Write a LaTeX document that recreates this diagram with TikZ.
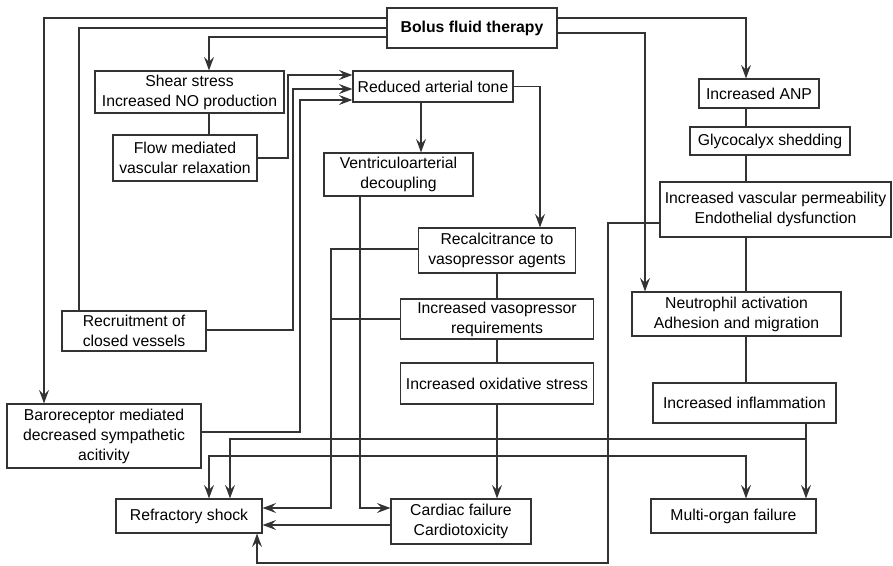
\documentclass[tikz,border=0pt]{standalone}
\usepackage{fontspec}
\setmainfont{Liberation Sans}
\usetikzlibrary{arrows.meta}

\begin{document}
\begin{tikzpicture}[x=0.025cm, y=-0.025cm,
	every node/.style={font=\fontsize{11.2}{14.2}\selectfont},
	box/.style={draw=black!80, line width=0.8pt, align=center, inner sep=0pt},
	link/.style={draw=black!80, line width=0.8pt},
	linkarr/.style={link, -{Stealth[length=9.5pt, width=7pt, inset=3.5pt]}},
	linkboth/.style={link, {Stealth[length=9.5pt, width=7pt, inset=3.5pt]}-{Stealth[length=9.5pt, width=7pt, inset=3.5pt]}}]
	\useasboundingbox (0,0) rectangle (893,565);

	\node[box, minimum width=4.25cm, minimum height=1cm, font=\fontsize{11.2}{14.2}\selectfont\bfseries] (bolus) at (472,28) {Bolus fluid therapy};
	\node[box, minimum width=4.725cm, minimum height=1.05cm] (shear) at (189.5,92) {Shear stress\\Increased NO production};
	\node[box, minimum width=3.6cm, minimum height=1.15cm] (flow) at (185,158) {Flow mediated\\vascular relaxation};
	\node[box, minimum width=4cm, minimum height=0.775cm] (reduced) at (433,86.5) {Reduced arterial tone};
	\node[box, minimum width=3.725cm, minimum height=1.075cm] (ventr) at (398.5,174.5) {Ventriculoarterial\\decoupling};
	\node[box, minimum width=3.925cm, minimum height=1.125cm] (recalc) at (497,250.5) {Recalcitrance to\\vasopressor agents};
	\node[box, minimum width=4.825cm, minimum height=1cm] (vasoreq) at (497,319) {Increased vasopressor\\requirements};
	\node[box, minimum width=4.825cm, minimum height=1.025cm] (oxid) at (497,383.5) {Increased oxidative stress};
	\node[box, minimum width=3.5cm, minimum height=1.125cm] (cardiac) at (461,521.5) {Cardiac failure\\Cardiotoxicity};
	\node[box, minimum width=3.6cm, minimum height=1cm] (recruit) at (134,331) {Recruitment of\\closed vessels};
	\node[box, minimum width=4.85cm, minimum height=1.6cm] (baro) at (104,436) {Baroreceptor mediated\\decreased sympathetic\\acitivity};
	\node[box, minimum width=3.65cm, minimum height=0.85cm] (refr) at (189,516) {Refractory shock};
	\node[box, minimum width=3cm, minimum height=0.725cm] (anp) at (759,93.5) {Increased ANP};
	\node[box, minimum width=4cm, minimum height=0.7cm] (glyco) at (770,141) {Glycocalyx shedding};
	\node[box, minimum width=5.775cm, minimum height=1.375cm] (perm) at (775.5,209.5) {Increased vascular permeability\\Endothelial dysfunction};
	\node[box, minimum width=5.225cm, minimum height=1.1cm] (neutro) at (736.5,314) {Neutrophil activation\\Adhesion and migration};
	\node[box, minimum width=4.575cm, minimum height=1cm] (inflam) at (744.5,403) {Increased inflammation};
	\node[box, minimum width=4.125cm, minimum height=0.85cm] (mof) at (733.5,516) {Multi-organ failure};
	\coordinate (split) at (806,439);

	% left branch
	\draw[linkarr] (bolus.west |- 0,18) -| (44,0 |- baro.north);
	\draw[link] (bolus.west |- 0,28) -| (79,0 |- recruit.north);
	\draw[linkarr] (bolus.west |- 0,37) -| (shear.north -| 209,0);
	\draw[link] (shear.south -| 209,0) -- (flow.north -| 209,0);
	\draw[linkarr] (flow.east) -| (288,75) -- (reduced.west |- 0,75);
	\draw[linkarr] (recruit.east |- 0,330) -| (293,89) -- (reduced.west |- 0,89);
	\draw[linkarr] (baro.east |- 0,432) -| (300,100) -- (reduced.west |- 0,100);

	% middle branch
	\draw[linkarr] (reduced.south -| 421,0) -- (ventr.north -| 421,0);
	\draw[linkarr] (reduced.east) -| (recalc.north -| 540,0);
	\draw[link] (recalc.south) -- (vasoreq.north);
	\draw[link] (vasoreq.south) -- (oxid.north);
	\draw[linkarr] (oxid.south) -- (cardiac.north -| oxid.south);
	\draw[linkarr] (ventr.south -| 360,0) |- (cardiac.west |- 0,508);
	\draw[linkarr] (recalc.west |- 0,249) -| (331,508) -- (refr.east |- 0,508);
	\draw[link] (vasoreq.west) -- (331,0 |- vasoreq.west);
	\draw[linkarr] (cardiac.west |- 0,525) -- (refr.east |- 0,525);

	% right branch
	\draw[linkarr] (bolus.east |- 0,18) -| (anp.north -| 746,0);
	\draw[linkarr] (bolus.east |- 0,33) -| (neutro.north -| 645,0);
	\foreach \a/\b in {anp/glyco, glyco/perm, perm/neutro, neutro/inflam}
		\draw[link] (\a.south -| 746,0) -- (\b.north -| 746,0);
	\draw[linkarr] (inflam.south -| split) -- (mof.north -| split);
	\draw[linkarr] (split) -| (refr.north -| 230,0);
	\draw[linkboth] (refr.north -| 209,0) |- (746,456) -- (mof.north -| 746,0);
	\draw[linkarr] (perm.west |- 0,223) -| (608,563) -| (refr.south -| 257,0);
\end{tikzpicture}
\end{document}
